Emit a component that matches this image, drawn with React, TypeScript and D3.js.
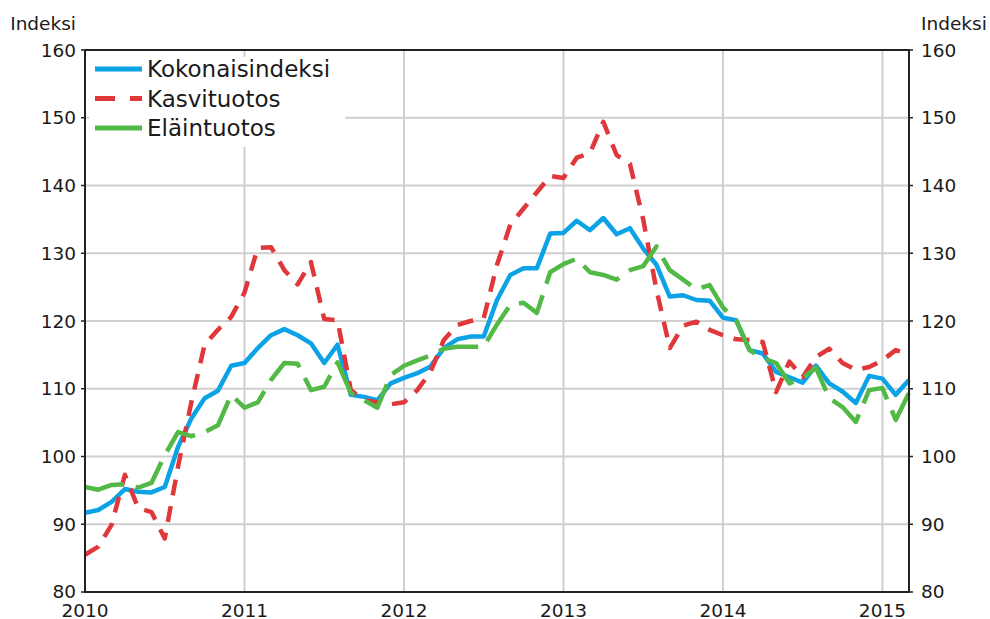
import React from 'react';
import * as d3 from 'd3';

// monthly index values, Jan 2010 - Mar 2015
const YEARS = ['2010', '2011', '2012', '2013', '2014', '2015'];
const Y_TICKS = [80, 90, 100, 110, 120, 130, 140, 150, 160];
const SERIES_NAMES = ['Kokonaisindeksi', 'Kasvituotos', 'Eläintuotos'];

const KOKONAIS = [
    91.7, 92.1, 93.3, 95.2, 94.8, 94.7, 95.5, 101.4, 105.6, 108.6, 109.7, 113.4,
    113.8, 116.0, 117.9, 118.8, 117.9, 116.7, 113.8, 116.5, 109.1, 108.8, 108.3, 110.8,
    111.6, 112.3, 113.3, 116.0, 117.3, 117.7, 117.7, 123.1, 126.8, 127.8, 127.8, 132.9,
    133.0, 134.8, 133.4, 135.2, 132.8, 133.7, 130.7, 128.3, 123.6, 123.8, 123.1, 123.0,
    120.5, 120.1, 115.7, 115.2, 112.5, 111.7, 110.9, 113.4, 110.8, 109.6, 107.9, 111.9,
    111.5, 109.1, 111.3
];

const KASVI = [
    85.5, 86.7, 89.9, 97.3, 92.4, 91.8, 87.9, 98.5, 108.0, 116.5, 118.7, 120.6,
    124.2, 130.8, 130.9, 127.5, 125.4, 128.7, 120.3, 120.1, 109.8, 108.3, 108.0, 107.7,
    108.0, 109.8, 112.5, 117.2, 119.4, 120.0, 120.4, 128.3, 134.2, 136.6, 139.0, 141.4,
    141.1, 144.1, 144.8, 149.4, 144.5, 143.2, 135.0, 124.6, 116.0, 119.3, 119.9, 118.7,
    117.9, 117.3, 117.2, 116.9, 109.5, 114.0, 111.7, 114.7, 115.9, 113.8, 112.8, 113.2,
    114.2, 115.7, 115.1
];

const ELAIN = [
    95.5, 95.1, 95.8, 95.9, 95.4, 96.1, 100.2, 103.6, 103.0, 103.6, 104.6, 109.1,
    107.2, 108.0, 111.3, 113.8, 113.7, 109.8, 110.3, 113.9, 109.4, 108.3, 107.2, 112.0,
    113.4, 114.2, 114.9, 115.9, 116.2, 116.2, 116.2, 119.5, 122.4, 122.7, 121.2, 127.2,
    128.4, 129.2, 127.2, 126.8, 126.1, 127.5, 128.1, 131.0, 127.5, 126.1, 124.7, 125.3,
    122.0, 120.1, 115.7, 114.5, 113.8, 110.8, 111.6, 113.1, 108.6, 107.3, 105.1, 109.8,
    110.1, 105.4, 109.4
];

const width = 990;
const height = 619;
const margin = { top: 50, right: 81, bottom: 27, left: 85 };
const innerWidth = width - margin.left - margin.right;
const innerHeight = height - margin.top - margin.bottom;

const styles = [
    { color: '#0ba2e6', dash: 'none' },
    { color: '#e0373a', dash: '16,11' },
    { color: '#52b946', dash: '40,12' },
];

const App: React.FC = () => {
    const series = [KOKONAIS, KASVI, ELAIN];

    const xScale = d3.scaleLinear()
        .domain([0, KOKONAIS.length - 1])
        .range([0, innerWidth]);

    const yScale = d3.scaleLinear()
        .domain([80, 160])
        .range([innerHeight, 0]);

    const line = d3.line<number>()
        .x((_, i) => xScale(i))
        .y(d => yScale(d));

    const font = '"DejaVu Sans", Verdana, sans-serif';

    return (
        <div style={{ position: 'absolute', left: 0, top: 0 }}>
            <svg width={width} height={height} style={{ display: 'block', background: '#fff' }} fontFamily={font}>
                <g transform={`translate(${margin.left}, ${margin.top})`}>
                    {/* grid */}
                    {Y_TICKS.slice(1, -1).map(t => (
                        <line key={t} x1={0} x2={innerWidth} y1={yScale(t)} y2={yScale(t)} stroke="#cfcfcf" strokeWidth={2} />
                    ))}
                    {YEARS.slice(1).map((y, i) => (
                        <line key={y} x1={xScale((i + 1) * 12)} x2={xScale((i + 1) * 12)} y1={0} y2={innerHeight} stroke="#cfcfcf" strokeWidth={2} />
                    ))}

                    {/* data */}
                    {series.map((values, i) => (
                        <path
                            key={SERIES_NAMES[i]}
                            d={line(values) || ''}
                            fill="none"
                            stroke={styles[i].color}
                            strokeWidth={4.5}
                            strokeDasharray={styles[i].dash}
                            strokeLinejoin="round"
                        />
                    ))}

                    {/* frame */}
                    <rect x={0} y={0} width={innerWidth} height={innerHeight} fill="none" stroke="#222" strokeWidth={2} />

                    {Y_TICKS.map(t => (
                        <g key={t}>
                            <line x1={-4} x2={0} y1={yScale(t)} y2={yScale(t)} stroke="#222" strokeWidth={1.5} />
                            <line x1={innerWidth} x2={innerWidth + 4} y1={yScale(t)} y2={yScale(t)} stroke="#222" strokeWidth={1.5} />
                            <text x={-9} y={yScale(t) - (t === 80 ? 1 : 0)} textAnchor="end" dominantBaseline="central" fontSize="18.5px" fill="#1a1a1a">{t}</text>
                            <text x={innerWidth + 12} y={yScale(t) - (t === 80 ? 1 : 0)} textAnchor="start" dominantBaseline="central" fontSize="18.5px" fill="#1a1a1a">{t}</text>
                        </g>
                    ))}

                    {YEARS.map((y, i) => (
                        <text key={y} x={xScale(i * 12)} y={innerHeight + 18} textAnchor="middle" dominantBaseline="central" fontSize="18.5px" fill="#1a1a1a">{y}</text>
                    ))}

                    <text x={-9} y={-27} textAnchor="end" dominantBaseline="central" fontSize="18.5px" fill="#1a1a1a">Indeksi</text>
                    <text x={innerWidth + 12} y={-27} textAnchor="start" dominantBaseline="central" fontSize="18.5px" fill="#1a1a1a">Indeksi</text>

                    {/* legend */}
                    <g transform="translate(4, 7)">
                        <rect x={0} y={0} width={256} height={90} fill="#fff" />
                        {SERIES_NAMES.map((name, i) => (
                            <g key={name} transform={`translate(0, ${12 + i * 29.5})`}>
                                <line x1={6} x2={53} y1={0} y2={0} stroke={styles[i].color} strokeWidth={5}
                                    strokeDasharray={i === 1 ? '20,15' : 'none'} />
                                <text x={58} y={0} dominantBaseline="central" fontSize="23px" fill="#1a1a1a">{name}</text>
                            </g>
                        ))}
                    </g>
                </g>
            </svg>
        </div>
    );
};

export default App;
